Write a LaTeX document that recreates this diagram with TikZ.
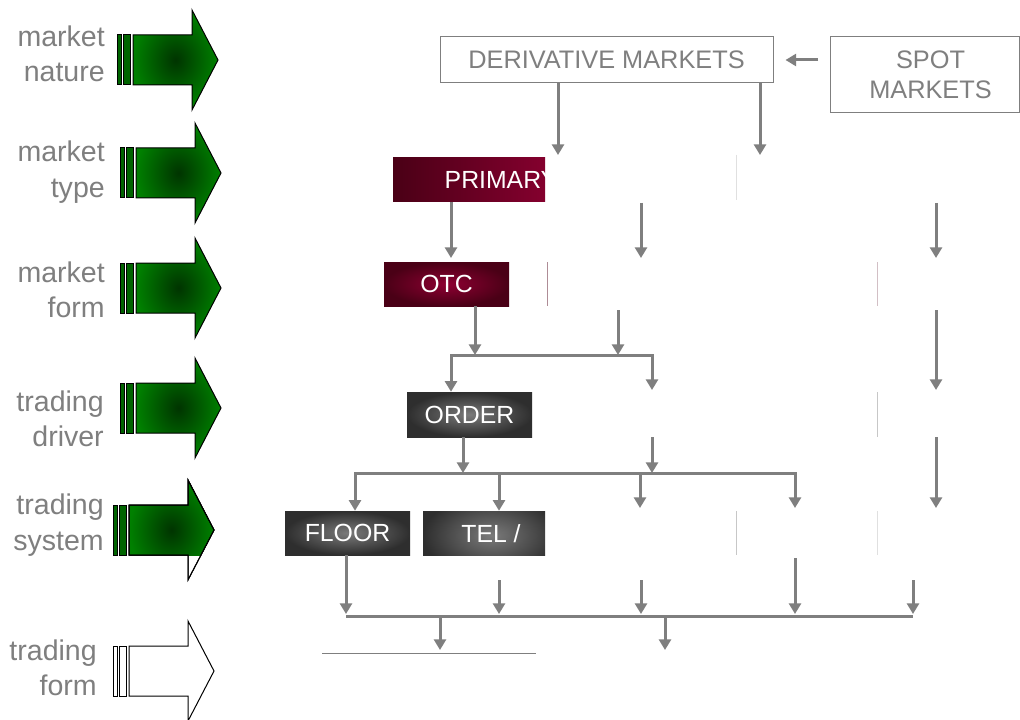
\documentclass[tikz,border=0pt]{standalone}
\usepackage{fontspec}
\setmainfont{Liberation Sans}
\usetikzlibrary{arrows.meta}
\definecolor{txtgray}{HTML}{7F7F7F}
\definecolor{mdark}{HTML}{4A0016}
\definecolor{mlight}{HTML}{8E0032}
\definecolor{gdark}{HTML}{2E2E2E}
\definecolor{glight}{HTML}{7A7A7A}
\definecolor{grdark}{HTML}{003400}
\definecolor{grlight}{HTML}{008000}
\definecolor{grbar}{HTML}{006400}
\tikzset{
  lbl/.style={text=txtgray, font=\fontsize{21.4}{26.5}\selectfont, align=right, anchor=east, inner sep=0pt},
  wbox/.style={draw=txtgray, line width=0.75pt, text=txtgray, font=\fontsize{19}{22.5}\selectfont, align=center, inner sep=0pt},
  wtext/.style={text=txtgray, font=\fontsize{19}{22.5}\selectfont, align=center, inner sep=0pt},
  dbox/.style={inner sep=0pt, minimum height=33pt, text=white, font=\fontsize{18.6}{22}\selectfont},
  mbox/.style={dbox, inner color=mlight, outer color=mdark},
  gbox/.style={dbox, inner color=glight, outer color=gdark},
  btext/.style={inner sep=0pt, text=white, font=\fontsize{18.6}{22}\selectfont},
  conn/.style={draw=txtgray, line width=2.25pt},
  arr/.style={conn, -{Triangle[width=9pt,length=8pt]}},
  faint/.style={line width=0.6pt},
  gbody/.style={draw=black, line width=0.75pt, inner color=grdark, outer color=grlight},
  gbarst/.style={draw=black, line width=0.75pt, fill=grbar},
  wbody/.style={draw=black, line width=0.75pt, fill=white},
}
\newcommand\sidearrow[4]{%
  \path[#3] ({#1+16},{#2-25}) -- ({#1+75},{#2-25}) -- ({#1+75},{#2-50}) -- ({#1+101},{#2}) -- ({#1+75},{#2+50}) -- ({#1+75},{#2+25}) -- ({#1+16},{#2+25}) -- cycle;
  \path[#4] (#1,{#2-25}) rectangle ({#1+4},{#2+25});
  \path[#4] ({#1+6},{#2-25}) rectangle ({#1+13},{#2+25});
}
\begin{document}
\begin{tikzpicture}[x=0.75pt,y=-0.75pt]
\useasboundingbox[fill=white] (0,0) rectangle (1020,720);

% left labels
\node[lbl] (l1) at (105,54) {market\\nature};
\node[lbl] (l2) at (105,172) {market\\type};
\node[lbl] (l3) at (105,290) {market\\form};
\node[lbl] (l4) at (104,419) {trading\\driver};
\node[lbl] (l5) at (104,525) {trading\\system};
\node[lbl] (l6) at (97,668) {trading\\form};

% left arrows
\sidearrow{117}{60}{gbody}{gbarst}
\sidearrow{120}{173}{gbody}{gbarst}
\sidearrow{120}{288}{gbody}{gbarst}
\sidearrow{120}{408}{gbody}{gbarst}
\sidearrow{113}{530}{wbody}{wbody}
\begin{scope}
  \clip (0,0) rectangle (1020,555);
  \sidearrow{113}{530}{gbody}{gbarst}
\end{scope}
\sidearrow{113}{530}{draw=black,line width=0.75pt}{draw=black,line width=0.75pt}
\sidearrow{113}{671}{wbody}{wbody}

% top boxes
\node[wbox, minimum width=249.75pt, minimum height=34.5pt] (deriv) at (606.5,60) {DERIVATIVE MARKETS};
\node[wbox, minimum width=141.75pt, minimum height=57pt] (spot) at (924.5,75) {};
\node[wtext] (spottext) at (930.5,75) {SPOT\\MARKETS};

% dark boxes
\node[dbox, left color=mdark, right color=mlight!85!mdark, minimum width=114pt] (primary) at (469,180) {};
\begin{scope}
  \clip (primary.south west) rectangle (primary.north east);
  \node[btext] (primarytext) at (501,180) {PRIMARY};
\end{scope}
\node[mbox, minimum width=93.75pt] (otc) at (446.5,284) {OTC};
\node[gbox, minimum width=93.75pt, minimum height=33.75pt] (order) at (469.5,414.5) {ORDER};
\node[gbox, minimum width=93.75pt] (floor) at (347.5,533) {FLOOR};
\begin{scope}
  \clip (423,511) rectangle (545,555);
  \path[inner color=glight, outer color=gdark] (423,496) rectangle (560,575);
\end{scope}
\node[dbox, minimum width=91.5pt] (tel) at (484,533) {};
\node[btext] (teltext) at (491,534) {TEL /};

% faint edges of hidden boxes
\draw[faint, color=black!12] (736,155) -- (736,200);
\draw[faint, color=mdark!45] (547,262) -- (547,306);
\draw[faint, color=mdark!25] (877,262) -- (877,306);
\draw[faint, color=black!22] (877,392) -- (877,437);
\draw[faint, color=black!22] (736,511) -- (736,555);
\draw[faint, color=black!12] (877,511) -- (877,555);

% connectors
\coordinate (sa) at (818,60);
\draw[arr] (sa) -- ([xshift=9pt]deriv.east);
\coordinate (d1) at (558,155);
\coordinate (d2) at (760,155);
\draw[arr] (deriv.south -| d1) -- (d1);
\draw[arr] (deriv.south -| d2) -- (d2);
\coordinate (p1) at (451,258);
\draw[arr] (primary.south -| p1) -- (p1);

\foreach \x/\ya/\yb [count=\i] in {641/203/258, 936/203/258, 618/310/355, 936/310/390, 652/437/473, 936/437/508, 640/473/508, 499/580/614, 641/580/614, 913/580/614, 795/558/614, 440/616/650, 665/616/650} {
  \coordinate (fs\i) at (\x,\ya);
  \coordinate (fe\i) at (\x,\yb);
  \draw[arr] (fs\i) -- (fe\i);
}

\coordinate (j1) at (475,355);
\coordinate (j1L) at (451,0);
\coordinate (j1R) at (652,390);
\draw[arr] (otc.south -| j1) -- (j1);
\draw[arr] (j1) -| (order.north -| j1L);
\draw[arr] (j1) -| (j1R);

\coordinate (j2) at (463,473);
\coordinate (k1) at (355,0);
\coordinate (k2) at (499,0);
\coordinate (k4) at (795,508);
\draw[arr] (order.south -| j2) -- (j2);
\draw[arr] (j2) -| (floor.north -| k1);
\draw[arr] (j2) -| (k4);
\coordinate (k2s) at (499,473);
\draw[arr] (k2s) -- (tel.north -| k2);

\coordinate (j3L) at (346,614);
\draw[arr] (floor.south -| j3L) -- (j3L);
\coordinate (j3a) at (346,616);
\coordinate (j3b) at (913,616);
\draw[conn] (j3a) -- (j3b);

\coordinate (b1) at (322,653);
\coordinate (b2) at (536,653);
\draw[txtgray, line width=0.75pt] (b1) -- (b2);
\end{tikzpicture}
\end{document}
